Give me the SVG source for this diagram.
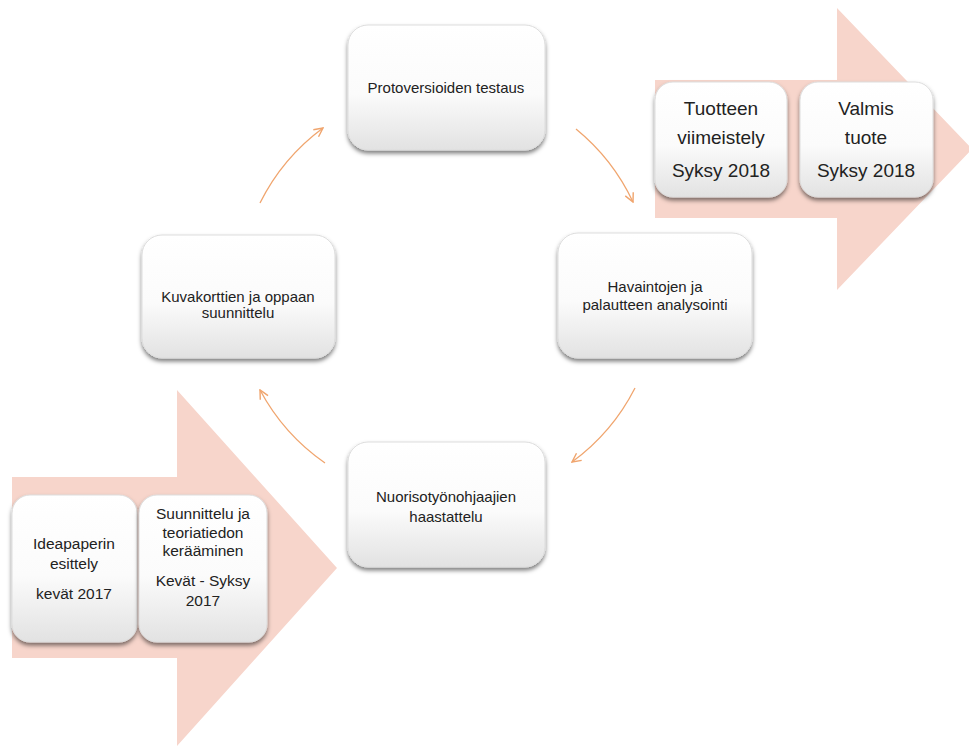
<svg xmlns="http://www.w3.org/2000/svg" width="969" height="746" viewBox="0 0 969 746">
<style>
.box{fill:url(#g);stroke:#dddddd;stroke-width:1;filter:url(#sh)}
.t{font-family:"Liberation Sans","DejaVu Sans",sans-serif;fill:#222222;text-anchor:middle}
.s{font-size:15px}
.b{font-size:19px}
.m{font-size:15.5px}
.arrow{fill:#F7D5CB}
.con{fill:none;stroke:#F0A56E;stroke-width:1.3;marker-end:url(#ah)}
</style>
<defs>
<linearGradient id="g" x1="0" y1="0" x2="0" y2="1">
<stop offset="0" stop-color="#ffffff"/>
<stop offset="0.55" stop-color="#fbfbfb"/>
<stop offset="1" stop-color="#e2e2e2"/>
</linearGradient>
<filter id="sh" x="-10%" y="-10%" width="120%" height="125%">
<feDropShadow dx="0" dy="3" stdDeviation="2.2" flood-color="#000" flood-opacity="0.5"/>
</filter>
<marker id="ah" viewBox="0 0 10 10" refX="9" refY="5" markerWidth="11" markerHeight="11" markerUnits="userSpaceOnUse" orient="auto">
<path d="M1,1 L9,5 L1,9" fill="none" stroke="#F0A56E" stroke-width="1.3"/>
</marker>
</defs>
<rect width="969" height="746" fill="#ffffff"/>
<g id="arrow-top"><polygon class="arrow" points="655,80 837,80 837,8 972,149 837,290 837,218 655,218"/></g>
<g id="arrow-bottom"><polygon class="arrow" points="12,477 177,477 177,390 337,568 177,746 177,658 12,658"/></g>
<g id="connectors">
<path class="con" d="M260,203 A209,209 0 0,1 323,128"/>
<path class="con" d="M576,129 A209,209 0 0,1 633,202"/>
<path class="con" d="M635,388 A209,209 0 0,1 572,462"/>
<path class="con" d="M325,463 A209,209 0 0,1 260,390"/>
</g>
<g id="n-proto"><rect class="box" x="348" y="25" width="197" height="125" rx="20"/>
<text class="t s" x="446" y="93">Protoversioiden testaus</text></g>
<g id="n-kuva"><rect class="box" x="142" y="235" width="193" height="123" rx="20"/>
<text class="t s" x="238" y="302">Kuvakorttien ja oppaan</text>
<text class="t s" x="238" y="318">suunnittelu</text></g>
<g id="n-hav"><rect class="box" x="558" y="233" width="194" height="125" rx="20"/>
<text class="t s" x="655" y="292">Havaintojen ja</text>
<text class="t s" x="655" y="310">palautteen analysointi</text></g>
<g id="n-nuor"><rect class="box" x="348" y="442" width="197" height="125" rx="20"/>
<text class="t s" x="446" y="502">Nuorisotyönohjaajien</text>
<text class="t s" x="446" y="522">haastattelu</text></g>
<g id="n-tuot"><rect class="box" x="655" y="82" width="132" height="115" rx="18"/>
<text class="t b" x="721" y="115">Tuotteen</text>
<text class="t b" x="721" y="144">viimeistely</text>
<text class="t b" x="721" y="177">Syksy 2018</text></g>
<g id="n-valmis"><rect class="box" x="800" y="82" width="133" height="115" rx="18"/>
<text class="t b" x="866" y="115">Valmis</text>
<text class="t b" x="866" y="144">tuote</text>
<text class="t b" x="866" y="177">Syksy 2018</text></g>
<g id="n-idea"><rect class="box" x="12" y="495" width="125" height="147" rx="18"/>
<text class="t m" x="74" y="549">Ideapaperin</text>
<text class="t m" x="74" y="569">esittely</text>
<text class="t m" x="74" y="599">kevät 2017</text></g>
<g id="n-suun"><rect class="box" x="139" y="495" width="128" height="147" rx="18"/>
<text class="t m" x="203" y="519">Suunnittelu  ja</text>
<text class="t m" x="203" y="538">teoriatiedon</text>
<text class="t m" x="203" y="556">kerääminen</text>
<text class="t m" x="203" y="586">Kevät - Syksy</text>
<text class="t m" x="203" y="606">2017</text></g>
</svg>
